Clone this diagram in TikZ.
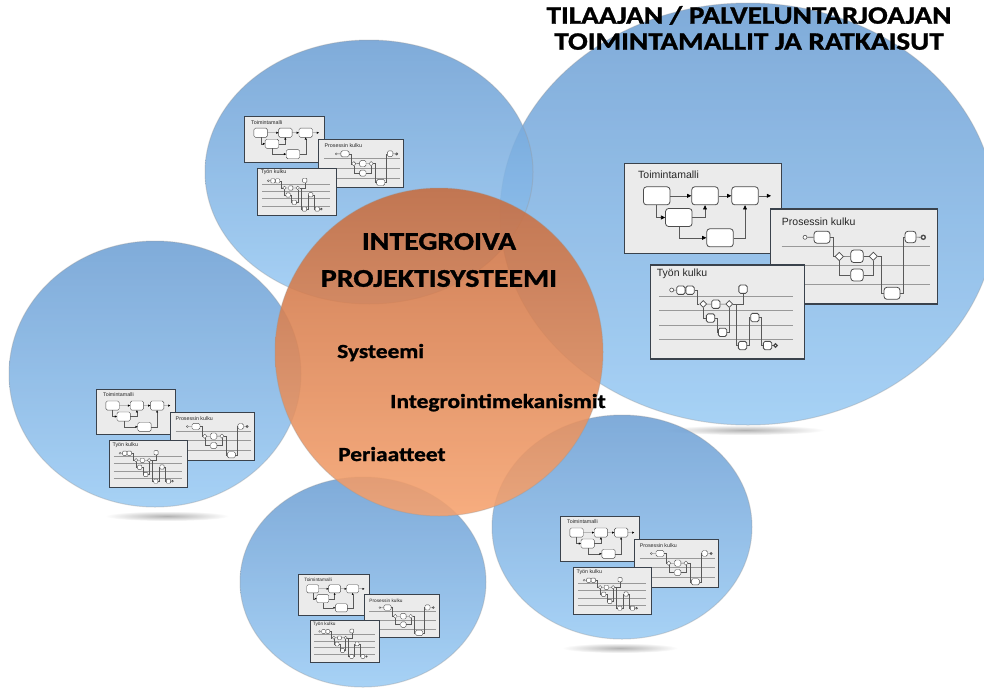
\documentclass[tikz,border=0pt]{standalone}
\usepackage{fontspec}
\setmainfont{Carlito}
\newfontfamily\widefont[FakeStretch=1.17, FakeBold=1.2]{Carlito Bold}
\newfontfamily\panelfont{Liberation Sans}
\usetikzlibrary{arrows.meta,shapes.geometric}

\definecolor{bubbletop}{RGB}{106,157,211}
\definecolor{bubblebot}{RGB}{152,202,244}
\definecolor{coretop}{RGB}{200,108,62}
\definecolor{corebot}{RGB}{246,162,110}
\definecolor{panelfill}{RGB}{235,235,235}
\definecolor{paneledge}{RGB}{58,66,76}

\newcommand\flowscale{1}

\tikzset{
  bubble/.style={top color=bubbletop, bottom color=bubblebot, fill opacity=0.85},
  rim/.style={draw=black!40, draw opacity=0.35, line width=1pt},
  core/.style={top color=coretop, bottom color=corebot, fill opacity=0.88},
  floor/.style={inner color=black!30, outer color=white},
  heading/.style={font=\widefont\fontsize{25.5}{37}\selectfont, align=center, inner sep=0pt},
  note/.style={font=\widefont\fontsize{20}{24}\selectfont, anchor=base west, inner sep=0pt},
  panel/.style={rectangle, draw=paneledge, fill=panelfill, line width=\flowscale*1.2pt, anchor=north west, inner sep=0pt},
  ptitle/.style={anchor=west, inner sep=0pt, font=\panelfont\fontsize{10.5}{12}\selectfont, text=black!85},
  task/.style={rectangle, draw=black!70, fill=white, rounded corners=\flowscale*3pt, inner sep=0pt, line width=\flowscale*0.8pt},
  mini/.style={task, minimum size=8.3pt, rounded corners=\flowscale*1.6pt},
  gate/.style={diamond, draw=black!70, fill=white, inner sep=0pt, minimum size=8.5pt, line width=\flowscale*0.7pt},
  event/.style={circle, draw=black!70, fill=white, inner sep=0pt, minimum size=4pt, line width=\flowscale*0.6pt},
  flow/.style={draw=black!65, line width=\flowscale*0.6pt},
  lane/.style={draw=black!40, line width=\flowscale*0.6pt},
  arrowed/.style={-{Triangle[length=0pt 7, width=0pt 6.5, color=black]}},
  pics/flowset/.style={code={
    \pgfmathsetmacro\flowscale{#1}
    % Toimintamalli
    \node[panel, minimum width=157pt, minimum height=90pt] (-tmbox) at (0,0) {};
    \node[ptitle] (-tmtitle) at (14,12) {Toimintamalli};
    \node[task, minimum width=26.5pt, minimum height=18pt] (-a1) at (32.7,32.8) {};
    \node[task, minimum width=26.5pt, minimum height=18pt] (-a2) at (81,32.8) {};
    \node[task, minimum width=26.5pt, minimum height=18pt] (-a3) at (121,32.8) {};
    \node[task, minimum width=26.5pt, minimum height=18pt] (-a4) at (54.8,54.5) {};
    \node[task, minimum width=26.5pt, minimum height=18pt] (-a5) at (96,74.8) {};
    \coordinate (-aout) at (147,32.8);
    \draw[flow, arrowed] (-a1) -- (-a2);
    \draw[flow, arrowed] (-a2) -- (-a3);
    \draw[flow, arrowed] (-a3) -- (-aout);
    \draw[flow, arrowed] (-a1.south) |- (-a4.west);
    \draw[flow, arrowed] (-a4.east) -| (-a2.south);
    \draw[flow, arrowed] (-a4.south) |- (-a5.west);
    \draw[flow, arrowed] (-a5.east) -| (-a3.south);
    % Prosessin kulku
    \node[panel, minimum width=166.5pt, minimum height=95pt] (-pkbox) at (146,45.3) {};
    \node[ptitle] (-pktitle) at (157.7,58.7) {Prosessin kulku};
    \foreach \y in {83,102,121}
      \draw[lane] (157.7,\y) -- (306,\y);
    \node[event] (-p0) at (181,74.3) {};
    \node[task, minimum width=16pt, minimum height=12pt] (-p1) at (198,74.2) {};
    \node[gate] (-d1) at (215.3,93.5) {};
    \node[task, minimum width=12.5pt, minimum height=12.5pt] (-p2) at (233,93.3) {};
    \node[gate] (-d2) at (249.3,93.3) {};
    \node[task, minimum width=12.5pt, minimum height=12pt] (-p3) at (233,112) {};
    \node[task, minimum width=16pt, minimum height=12pt] (-p4) at (268,130.3) {};
    \node[task, minimum width=11pt, minimum height=11.5pt] (-p5) at (286.5,74) {};
    \node[event, line width=\flowscale*1.4pt] (-p6) at (299.3,74.3) {};
    \draw[flow] (-p0) -- (-p1);
    \draw[flow] (-p1.east) -- ++(3,0) |- (-d1.west);
    \draw[flow] (-d1) -- (-p2);
    \draw[flow] (-p2) -- (-d2);
    \draw[flow] (-d1.south) |- (-p3.west);
    \draw[flow] (-p3.east) -| (-d2.south);
    \draw[flow] (-d2.east) -- ++(3,0) |- (-p4.west);
    \draw[flow] (-p4.east) -- ++(3,0) |- (-p5.west);
    \draw[flow] (-p5) -- (-p6);
    % Tyon kulku
    \node[panel, minimum width=154pt, minimum height=94pt] (-tkbox) at (26,101.3) {};
    \node[ptitle] (-tktitle) at (32.7,111) {Työn kulku};
    \foreach \y in {133.7,147.7,162,176.3}
      \draw[lane] (35.3,\y) -- (169.3,\y);
    \node[event] (-t0) at (47.7,127) {};
    \node[mini] (-t1) at (56.8,127.2) {};
    \node[mini] (-t2) at (66,127.2) {};
    \node[gate, minimum size=7pt] (-e1) at (79.3,141) {};
    \node[mini] (-t3) at (91.8,141.2) {};
    \node[gate, minimum size=7pt] (-e2) at (105.3,141) {};
    \node[mini] (-t4) at (119,126.2) {};
    \node[mini] (-t5) at (86.5,155) {};
    \node[mini] (-t6) at (98.5,169.3) {};
    \node[mini] (-t7) at (118.5,182.5) {};
    \node[mini] (-t8) at (130.8,154.5) {};
    \node[mini] (-t9) at (143.5,182.5) {};
    \node[event, line width=\flowscale*1.2pt, minimum size=3.5pt] (-t10) at (151.5,182.5) {};
    \draw[flow] (-t0) -- (-t1);
    \draw[flow] (-t1) -- (-t2);
    \draw[flow] (-t2.east) -- ++(3,0) |- (-e1.west);
    \draw[flow] (-e1) -- (-t3);
    \draw[flow] (-t3) -- (-e2);
    \draw[flow] (-e2.east) -| (-t4.south);
    \draw[flow] (-e1.south) |- (-t5.west);
    \draw[flow] (-t5.east) -- ++(2,0) |- (-t6.west);
    \draw[flow] (-t6.east) -| (-e2.south);
    \draw[flow] (-e2.east) -- ++(3,0) |- (-t7.west);
    \draw[flow] (-t7.east) -- ++(2,0) |- (-t8.west);
    \draw[flow] (-t8.east) -- ++(2,0) |- (-t9.west);
    \draw[flow] (-t9) -- (-t10);
  }}
}

\begin{document}
\begin{tikzpicture}[x=1pt, y=-1pt]

    \clip (0,0) rectangle (984,688);
    \fill[white] (0,0) rectangle (984,688);

    % reflections under the bubbles
    \shade[floor] (167,516) ellipse (62 and 5);
    \shade[floor] (620,648) ellipse (58 and 5);
    \shade[floor] (745,430) ellipse (80 and 5);

    % bubbles
    \shade[bubble] (748,214) ellipse (248 and 211);
    \draw[rim] (748,214) ellipse (248 and 211);
    \shade[bubble] (369,172) ellipse (164 and 132);
    \draw[rim] (369,172) ellipse (164 and 132);
    \shade[bubble] (155,374) ellipse (146 and 133);
    \draw[rim] (155,374) ellipse (146 and 133);
    \shade[bubble] (363,582) ellipse (123 and 105);
    \draw[rim] (363,582) ellipse (123 and 105);
    \shade[bubble] (622,527) ellipse (130 and 112);
    \draw[rim] (622,527) ellipse (130 and 112);

    \pic[transform shape, scale=1] (big) at (624,163) {flowset=1};
    \pic[transform shape, scale=0.51] (upper) at (244,116) {flowset=0.51};
    \pic[transform shape, scale=0.505] (left) at (96,389) {flowset=0.505};
    \pic[transform shape, scale=0.452] (lower) at (298,574) {flowset=0.452};
    \pic[transform shape, scale=0.505] (right) at (560,516) {flowset=0.505};

    % core
    \shade[core] (439,352) circle (164);
    \draw[rim] (439,352) circle (164);

    \node[heading] (ips) at (439,260) {INTEGROIVA\\PROJEKTISYSTEEMI};
    \node[note] (sys) at (337,358) {Systeemi};
    \node[note] (mek) at (390,408) {Integrointimekanismit};
    \node[note] (per) at (338,461) {Periaatteet};

    \node[heading, font=\widefont\fontsize{25}{26}\selectfont] (tilaaja) at (749,28) {TILAAJAN / PALVELUNTARJOAJAN\\TOIMINTAMALLIT JA RATKAISUT};

\end{tikzpicture}
\end{document}
